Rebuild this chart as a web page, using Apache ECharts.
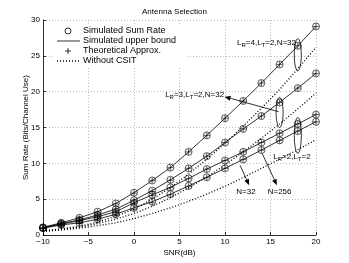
<!DOCTYPE html>
<html><head><meta charset="utf-8">
<script src="https://cdn.jsdelivr.net/npm/echarts@6/dist/echarts.min.js"></script>
<style>html,body{margin:0;padding:0;background:#fff}#c{width:349px;height:263px}</style>
</head><body><div id="c"></div>
<script>
const snr = [-10,-8,-6,-4,-2,0,2,4,6,8,10,12,14,16,18,20];
const xTicks = [-10,-5,0,5,10,15,20];
const yTicks = [0,5,10,15,20,25,30];
const legendNames = ['Simulated Sum Rate','Simulated upper bound','Theoretical Approx.','Without CSIT'];
// Simulated sum rate / upper bound
const simR4N32 = [1.07,1.7,2.4,3.25,4.4,5.9,7.6,9.4,11.6,13.9,16.3,18.7,21.2,23.8,26.4,29.1];
const simR3N32 = [1.0,1.6,2.1,2.8,3.6,4.85,6.2,7.7,9.3,11.0,12.9,14.8,16.6,18.5,20.5,22.55];
const simR2N256 = [1.0,1.5,2.0,2.55,3.25,4.5,5.6,6.65,7.9,9.2,10.4,11.6,12.9,14.2,15.5,16.8];
const simR2N32 = [0.95,1.4,1.7,2.2,2.9,3.8,4.65,5.7,6.85,8.05,9.3,10.55,11.85,13.2,14.5,15.8];
// Theoretical approximation
const thR4N32 = [1.0,1.65,2.35,3.2,4.35,5.85,7.6,9.4,11.6,13.9,16.3,18.7,21.2,23.8,26.4,29.1];
const thR3N32 = [0.95,1.55,2.05,2.7,3.5,4.75,6.1,7.65,9.3,11.0,12.9,14.8,16.6,18.5,20.5,22.55];
const thR2N256 = [0.95,1.45,1.9,2.45,3.1,4.35,5.5,6.6,7.85,9.2,10.4,11.6,12.9,14.2,15.5,16.8];
const thR2N32 = [0.9,1.35,1.6,2.05,2.7,3.6,4.5,5.6,6.8,8.0,9.3,10.55,11.85,13.2,14.5,15.8];
// Without CSIT
const noR4 = [0.6,0.85,1.2,1.8,2.6,3.6,5.0,6.6,8.5,10.6,12.8,15.2,17.7,20.3,23.2,26.2];
const noR3 = [0.55,0.8,1.1,1.6,2.2,3.0,4.0,5.2,6.6,8.1,9.8,11.6,13.5,15.5,17.6,19.8];
const noR2 = [0.5,0.7,0.95,1.3,1.7,2.3,3.0,3.8,4.7,5.7,6.8,8.0,9.3,10.6,11.9,13.3];

const FONT = 'Liberation Sans, Arial, Helvetica, sans-serif';
const pair = a => snr.map((x,i)=>[x,a[i]]);
const PLUS = 'path://M0,5L10,5M5,0L5,10';
const DOT = [1,2];

const series = [];
[simR4N32,simR3N32,simR2N256,simR2N32].forEach(a=>{
  series.push({name:legendNames[1],type:'line',data:pair(a),symbol:'none',
    lineStyle:{color:'#000',width:0.8},itemStyle:{color:'#000'},z:2});
});
[noR4,noR3,noR2].forEach(a=>{
  series.push({name:legendNames[3],type:'line',data:pair(a),symbol:'none',
    lineStyle:{color:'#000',width:1.3,type:DOT},itemStyle:{color:'#000'},z:2});
});
[simR4N32,simR3N32,simR2N256,simR2N32].forEach(a=>{
  series.push({name:legendNames[0],type:'scatter',data:pair(a),symbol:'circle',symbolSize:7,
    itemStyle:{color:'rgba(0,0,0,0)',borderColor:'#000',borderWidth:0.8},z:3});
});
[thR4N32,thR3N32,thR2N256,thR2N32].forEach(a=>{
  series.push({name:legendNames[2],type:'scatter',data:pair(a),symbol:PLUS,symbolSize:6,symbolKeepAspect:true,
    itemStyle:{color:'rgba(0,0,0,0)',borderColor:'#000',borderWidth:0.8},z:4});
});

const chart = echarts.init(document.getElementById('c'),null,{renderer:'canvas'});
const minus = v => String(v).replace('-','\u2212');
chart.setOption({
  animation:false,
  backgroundColor:'#fff',
  textStyle:{fontFamily:FONT,color:'#000'},
  title:{text:'Antenna Selection',left:'center',top:3,textStyle:{fontSize:8,fontWeight:'normal',fontFamily:FONT,color:'#000'}},
  grid:{left:43,right:33,top:20,bottom:28},
  xAxis:{type:'value',min:xTicks[0],max:xTicks[xTicks.length-1],interval:5,
    name:'SNR(dB)',nameLocation:'middle',nameGap:14,nameMoveOverlap:false,nameTextStyle:{fontSize:8,fontFamily:FONT,color:'#000'},
    axisLine:{onZero:false,lineStyle:{color:'#000',width:0.8}},
    axisTick:{inside:true,length:3,lineStyle:{color:'#000',width:0.8}},
    axisLabel:{fontSize:8,fontFamily:FONT,color:'#000',margin:3,formatter:minus},
    splitLine:{show:true,lineStyle:{color:'#aaa',type:DOT,width:0.8}}},
  yAxis:{type:'value',min:yTicks[0],max:yTicks[yTicks.length-1],interval:5,
    name:'Sum Rate (Bits/Channel Use)',nameLocation:'middle',nameGap:13,nameMoveOverlap:false,nameTextStyle:{fontSize:8,fontFamily:FONT,color:'#000'},
    axisLine:{show:true,onZero:false,lineStyle:{color:'#000',width:0.8}},
    axisTick:{show:true,inside:true,length:3,lineStyle:{color:'#000',width:0.8}},
    axisLabel:{fontSize:8,fontFamily:FONT,color:'#000',margin:3},
    splitLine:{show:true,lineStyle:{color:'#aaa',type:DOT,width:0.8}}},
  series:series
});

const g = [];
// Legend (box with white background, no border)
const LX = 55, LY = 24, rowY = [31,41,51,61], symX = 68, lineX1 = 57, lineX2 = 80, textX = 83;
g.push({type:'rect',shape:{x:LX,y:LY,width:130,height:43},style:{fill:'#fff'},z:20});
g.push({type:'circle',shape:{cx:symX,cy:rowY[0],r:3},style:{fill:'none',stroke:'#000',lineWidth:0.8},z:21});
g.push({type:'line',shape:{x1:lineX1,y1:rowY[1],x2:lineX2,y2:rowY[1]},style:{stroke:'#000',lineWidth:0.8},z:21});
g.push({type:'line',shape:{x1:symX-3,y1:rowY[2],x2:symX+3,y2:rowY[2]},style:{stroke:'#000',lineWidth:0.8},z:21});
g.push({type:'line',shape:{x1:symX,y1:rowY[2]-3,x2:symX,y2:rowY[2]+3},style:{stroke:'#000',lineWidth:0.8},z:21});
g.push({type:'line',shape:{x1:lineX1,y1:rowY[3],x2:lineX2,y2:rowY[3]},style:{stroke:'#000',lineWidth:1.3,lineDash:DOT},z:21});
legendNames.forEach((n,i)=>{
  g.push({type:'text',x:textX,y:rowY[i],style:{text:n,font:'9px '+FONT,fill:'#000',verticalAlign:'middle'},z:21});
});

// Annotations (in data coordinates)
const P = (x,y)=>chart.convertToPixel({gridIndex:0},[x,y]);
function ellipse(x,yTop,yBot){
  const a=P(x,yTop), b=P(x,yBot);
  g.push({type:'ellipse',shape:{cx:a[0],cy:(a[1]+b[1])/2,rx:3.5,ry:(b[1]-a[1])/2},
    style:{fill:'none',stroke:'#000',lineWidth:0.8},z:10});
}
function arrow(x1,y1,x2,y2){
  const a=P(x1,y1), b=P(x2,y2);
  const ang=Math.atan2(b[1]-a[1],b[0]-a[0]);
  const L=6, W=2.5;
  const bx=b[0]-L*Math.cos(ang), by=b[1]-L*Math.sin(ang);
  g.push({type:'line',shape:{x1:a[0],y1:a[1],x2:bx,y2:by},style:{stroke:'#000',lineWidth:0.8},z:10});
  g.push({type:'polygon',shape:{points:[[b[0],b[1]],[bx+W*Math.sin(ang),by-W*Math.cos(ang)],[bx-W*Math.sin(ang),by+W*Math.cos(ang)]]},
    style:{fill:'#000'},z:10});
}
const rich={n:{fontSize:8,fontFamily:FONT,color:'#000'},s:{fontSize:6,fontFamily:FONT,color:'#000',padding:[5,0,0,0]}};
function label(x,y,txt,align){
  const p=P(x,y);
  g.push({type:'text',x:p[0],y:p[1],style:{text:txt,rich:rich,align:align||'left',verticalAlign:'middle',fill:'#000',font:'8px '+FONT},z:11});
}
ellipse(18,27.4,22.9);
ellipse(16,19.2,15.0);
ellipse(18,16.4,11.4);
label(17.8,26.8,'{n|L}{s|R}{n|=4,L}{s|T}{n|=2,N=32}','right');
label(9.9,19.6,'{n|L}{s|R}{n|=3,L}{s|T}{n|=2,N=32}','right');
label(15.3,10.9,'{n|L}{s|R}{n|=2,L}{s|T}{n|=2}','left');
arrow(15.9,17.2,9.95,19.3);
arrow(11.65,9.75,12.65,6.95);
arrow(14.1,11.35,15.7,6.95);
label(12.3,6.0,'N=32','center');
label(16.0,6.0,'N=256','center');
chart.setOption({graphic:g});
</script></body></html>
